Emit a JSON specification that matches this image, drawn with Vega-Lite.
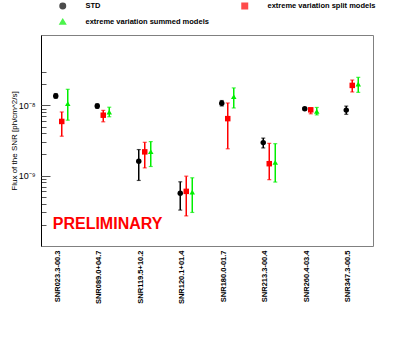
{
  "$schema": "https://vega.github.io/schema/vega-lite/v6.json",
  "width": 332,
  "height": 211,
  "autosize": "none",
  "padding": {"left": 41, "top": 35, "right": 42, "bottom": 96},
  "background": "white",
  "config": {
    "view": {"stroke": "#808080", "strokeWidth": 1},
    "font": "Liberation Sans",
    "legend": {
      "orient": "none",
      "legendX": 18,
      "legendY": -33,
      "columns": 2,
      "columnPadding": 30,
      "rowPadding": 4,
      "labelFont": "Liberation Sans",
      "labelFontSize": 7.5,
      "labelFontWeight": "bold",
      "labelColor": "black",
      "labelOffset": 19,
      "symbolSize": 30,
      "padding": 0,
      "title": null
    }
  },
  "resolve": {"axis": {"y": "independent"}},
  "data": {
    "values": [
      {"snr": "SNR023.3-00.3", "series": "STD", "v": 1.36e-8, "lo": 1.26e-8, "hi": 1.47e-8},
      {"snr": "SNR023.3-00.3", "series": "extreme variation split models", "v": 5.9e-9, "lo": 3.64e-9, "hi": 8.05e-9},
      {"snr": "SNR023.3-00.3", "series": "extreme variation summed models", "v": 1.06e-8, "lo": 6.15e-9, "hi": 1.69e-8},
      {"snr": "SNR089.0+04.7", "series": "STD", "v": 9.75e-9, "lo": 9.05e-9, "hi": 1.05e-8},
      {"snr": "SNR089.0+04.7", "series": "extreme variation split models", "v": 7.24e-9, "lo": 5.83e-9, "hi": 8.48e-9},
      {"snr": "SNR089.0+04.7", "series": "extreme variation summed models", "v": 7.98e-9, "lo": 6.88e-9, "hi": 9.4e-9},
      {"snr": "SNR119.5+10.2", "series": "STD", "v": 1.6e-9, "lo": 8.55e-10, "hi": 2.35e-9},
      {"snr": "SNR119.5+10.2", "series": "extreme variation split models", "v": 2.18e-9, "lo": 1.29e-9, "hi": 2.98e-9},
      {"snr": "SNR119.5+10.2", "series": "extreme variation summed models", "v": 2.19e-9, "lo": 1.35e-9, "hi": 3.05e-9},
      {"snr": "SNR120.1+01.4", "series": "STD", "v": 5.62e-10, "lo": 3.24e-10, "hi": 8.18e-10},
      {"snr": "SNR120.1+01.4", "series": "extreme variation split models", "v": 5.98e-10, "lo": 2.68e-10, "hi": 9.84e-10},
      {"snr": "SNR120.1+01.4", "series": "extreme variation summed models", "v": 5.83e-10, "lo": 3.0e-10, "hi": 9.33e-10},
      {"snr": "SNR180.0-01.7", "series": "STD", "v": 1.07e-8, "lo": 9.8e-9, "hi": 1.17e-8},
      {"snr": "SNR180.0-01.7", "series": "extreme variation split models", "v": 6.47e-9, "lo": 2.41e-9, "hi": 1.08e-8},
      {"snr": "SNR180.0-01.7", "series": "extreme variation summed models", "v": 1.33e-8, "lo": 9.17e-9, "hi": 1.77e-8},
      {"snr": "SNR213.3-00.4", "series": "STD", "v": 2.95e-9, "lo": 2.48e-9, "hi": 3.42e-9},
      {"snr": "SNR213.3-00.4", "series": "extreme variation split models", "v": 1.48e-9, "lo": 8.77e-10, "hi": 2.88e-9},
      {"snr": "SNR213.3-00.4", "series": "extreme variation summed models", "v": 1.55e-9, "lo": 8.11e-10, "hi": 2.85e-9},
      {"snr": "SNR260.4-03.4", "series": "STD", "v": 8.93e-9, "lo": 8.6e-9, "hi": 9.3e-9},
      {"snr": "SNR260.4-03.4", "series": "extreme variation split models", "v": 8.63e-9, "lo": 7.58e-9, "hi": 9.17e-9},
      {"snr": "SNR260.4-03.4", "series": "extreme variation summed models", "v": 8.2e-9, "lo": 7.31e-9, "hi": 9.33e-9},
      {"snr": "SNR347.3-00.5", "series": "STD", "v": 8.55e-9, "lo": 7.45e-9, "hi": 9.75e-9},
      {"snr": "SNR347.3-00.5", "series": "extreme variation split models", "v": 1.92e-8, "lo": 1.55e-8, "hi": 2.29e-8},
      {"snr": "SNR347.3-00.5", "series": "extreme variation summed models", "v": 2.0e-8, "lo": 1.53e-8, "hi": 2.5e-8}
    ]
  },
  "layer": [
    {
      "mark": {"type": "rule", "strokeWidth": 1.5},
      "encoding": {
        "x": {"field": "snr", "type": "nominal", "sort": null, "scale": {"paddingInner": 0.566, "paddingOuter": 0.283},
          "axis": {"title": null, "labelAngle": -90, "labelAlign": "right", "labelBaseline": "middle", "labelFont": "Liberation Sans", "labelFontWeight": "bold", "labelFontSize": 7.5, "labelColor": "black", "ticks": false, "domain": false, "labelPadding": 4, "labelOffset": -4}},
        "xOffset": {"field": "series", "type": "nominal", "sort": ["STD", "extreme variation split models", "extreme variation summed models"]},
        "y": {"field": "lo", "type": "quantitative", "scale": {"type": "log", "domain": [1.37e-10, 3.4e-8]},
          "axis": {"orient": "left", "title": "Flux of the SNR [ph/cm^2/s]", "titleFont": "Liberation Sans", "titleFontSize": 8, "titleFontWeight": "normal", "titleColor": "black", "titlePadding": 0,
            "values": [2e-10, 3e-10, 4e-10, 5e-10, 6e-10, 7e-10, 8e-10, 9e-10, 1e-9, 2e-9, 3e-9, 4e-9, 5e-9, 6e-9, 7e-9, 8e-9, 9e-9, 1e-8, 2e-8, 3e-8],
            "labelExpr": "datum.value == 1e-8 ? '10⁻⁸' : datum.value == 1e-9 ? '10⁻⁹' : ''",
            "labelFont": "Liberation Sans", "labelFontSize": 9, "labelColor": "black", "labelPadding": 11,
            "ticks": true,
            "tickSize": -5,
            "tickColor": "#555555", "tickWidth": 1, "domainColor": "black", "grid": false}},
        "y2": {"field": "hi"},
        "color": {"field": "series", "type": "nominal", "scale": {"domain": ["STD", "extreme variation summed models", "extreme variation split models"], "range": ["black", "#00ee00", "#ff0000"]}}
      }
    },
    {
      "mark": {"type": "tick", "orient": "horizontal", "size": 4, "thickness": 1.2},
      "encoding": {
        "x": {"field": "snr", "type": "nominal", "sort": null},
        "xOffset": {"field": "series", "type": "nominal", "sort": ["STD", "extreme variation split models", "extreme variation summed models"]},
        "y": {"field": "lo", "type": "quantitative",
          "axis": {"orient": "left", "title": null, "values": [1e-9, 1e-8], "labels": false, "domain": false, "grid": false, "ticks": true, "tickSize": -9, "tickColor": "#555555", "tickWidth": 1}},
        "color": {"field": "series", "type": "nominal"}
      }
    },
    {
      "mark": {"type": "tick", "orient": "horizontal", "size": 4, "thickness": 1.2},
      "encoding": {
        "x": {"field": "snr", "type": "nominal", "sort": null},
        "xOffset": {"field": "series", "type": "nominal", "sort": ["STD", "extreme variation split models", "extreme variation summed models"]},
        "y": {"field": "hi", "type": "quantitative", "axis": null},
        "color": {"field": "series", "type": "nominal"}
      }
    },
    {
      "mark": {"type": "point", "filled": true, "opacity": 1, "size": 30},
      "encoding": {
        "x": {"field": "snr", "type": "nominal", "sort": null},
        "xOffset": {"field": "series", "type": "nominal", "sort": ["STD", "extreme variation split models", "extreme variation summed models"]},
        "y": {"field": "v", "type": "quantitative", "axis": null},
        "color": {"field": "series", "type": "nominal"},
        "shape": {"field": "series", "type": "nominal", "scale": {"domain": ["STD", "extreme variation summed models", "extreme variation split models"], "range": ["circle", "triangle-up", "square"]}}
      }
    },
    {
      "data": {"values": [{}]},
      "mark": {"type": "text", "align": "left", "baseline": "middle", "font": "Liberation Sans", "fontSize": 16, "fontWeight": "bold", "color": "#ff0000", "dx": -9},
      "encoding": {
        "x": {"datum": "SNR023.3-00.3"},
        "y": {"datum": 2.06e-10, "axis": null},
        "text": {"value": "PRELIMINARY"}
      }
    }
  ]
}
